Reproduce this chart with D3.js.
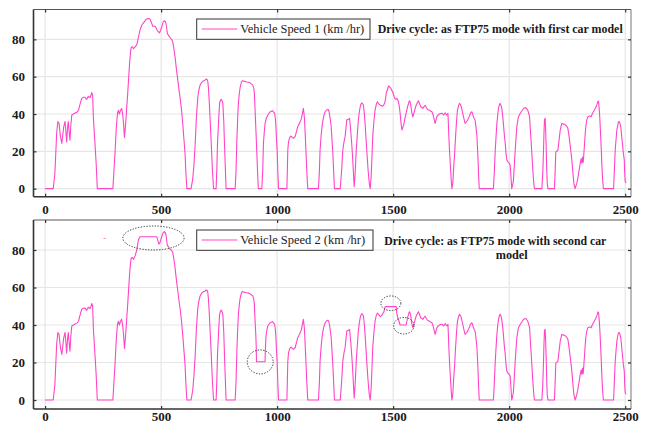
<!DOCTYPE html>
<html><head><meta charset="utf-8">
<script src="https://cdn.jsdelivr.net/npm/d3@7/dist/d3.min.js"></script>
<style>
body{margin:0;background:#fff;}
svg{display:block;font-family:"Liberation Serif","Times New Roman",serif;}
.grid line{stroke:#e6e6e6;stroke-width:1.2;}
.ax .domain{display:none;}
.ax line{stroke:#333;stroke-width:1.2;}
.ax text{font-size:13px;font-weight:bold;fill:#1a1a1a;font-family:"Liberation Serif","Times New Roman",serif;}
.speed{fill:none;stroke:#ff44c8;stroke-width:1.1;stroke-linejoin:round;}
.mark{fill:none;stroke:#333;stroke-width:1;stroke-dasharray:1.3,1.5;}
</style></head><body><div id="chart"></div>
<script>
/* FTP75 drive cycle, vehicle speed of two car models (km/hr vs time s). */
var timeTicks=[0,500,1000,1500,2000,2500];
var speedTicks=[0,20,40,60,80];

var speed1=[[0,0],[35,0],[42,8],[50,30],[55,36],[60,35],[66,28],[72,24.3],[80,33],[86,36],[90,30],[93,25],[97,33],[100,36],[104,30],[107,26],[111,34],[115,39.5],[122,40],[129,40.5],[137,41],[144,42],[150,45],[158,48.4],[165,49],[172,49],[179,47.8],[186,49.5],[193,48.7],[198,50],[201,51.5],[205,50],[208,38],[214,26],[220,13.6],[225,0],
[292,0],[296,8],[302,20.7],[307,33],[312,40.4],[316,42],[320,40],[325,42],[330,43],[334,40],[338,35],[342,27.5],[346,33],[349,38],[352,44],[355,49],[360,59],[364,67],[368,73],[371,75.7],[376,76],[381,75],[388,76],[395,77],[402,81],[409,85],[417,87.7],[425,89],[435,90.7],[443,91.2],[452,91],[458,89],[464,87],[474,87],[479,86],[484,84.6],[493,83.5],[498,85],[503,86.8],[508,89],[513,90],[518,89.5],[521,88.5],[525,85],[527,83],[533,82],[538,81],[545,80],[550,78.7],[555,75],[560,70.7],[565,65],[570,60],[576,54],[582,48.4],[588,42],[593,35],[598,27],[603,19],[607,8],[611,0],
[629,0],[636,5],[641,12],[647,24.3],[652,38],[658,49],[663,53],[668,55.5],[675,57],[682,57.8],[688,58],[694,58.7],[698,58.5],[701,57.5],[704,54],[707,47.5],[712,35],[716,24.3],[721,10],[726,0],
[737,0],[740,10],[743,24.3],[748,37],[752,45.7],[756,47.5],[759,47.9],[763,47],[766,45.7],[770,36],[773,24.3],[777,10],[780,0],
[819,0],[823,10],[826,24.3],[830,38],[833,45.7],[837,51],[841,54.6],[846,57],[850,57.8],[860,57.5],[869,57.2],[876,57],[883,56.7],[890,56],[895,55.5],[899,54],[902,51],[905,42],[909,30],[912,20.7],[916,8],[919,0],
[934,0],[938,10],[941,24.3],[945,31],[948,35],[954,38],[960,39.5],[965,40.5],[970,41.2],[975,41.5],[980,41.8],[985,41],[989,40.4],[992,38],[994,35],[997,27],[1000,20.7],[1003,9],[1006,0],
[1042,0],[1044,10],[1046,20.7],[1049,25],[1053,27],[1057,28],[1060,28.2],[1065,27.5],[1070,27],[1074,27.5],[1078,28],[1082,30],[1085,31.4],[1088,33],[1092,34],[1096,35],[1099,35.9],[1103,37],[1106,38.5],[1110,41],[1113,43],[1116,40],[1118,37],[1121,29],[1124,20.7],[1128,9],[1132,0],
[1178,0],[1182,9],[1185,20.7],[1190,29],[1195,35],[1201,39],[1207,41.2],[1212,42],[1218,42.5],[1221,42.3],[1224,41.2],[1228,38],[1233,33.2],[1236,27],[1240,19],[1244,8],[1247,0],
[1272,0],[1278,10],[1283,20.7],[1288,25],[1293,28],[1297,33],[1300,36.8],[1304,37],[1308,37.2],[1312,37.7],[1315,34],[1318,29.7],[1322,23],[1325,17.2],[1329,8],[1332,1],[1336,8],[1341,20.7],[1346,30],[1350,36.8],[1354,41],[1358,43.9],[1362,45.5],[1365,46],[1368,45.7],[1372,44.7],[1376,40],[1379,35],[1383,27],[1387,19],[1392,10],[1397,3],[1401,0],
[1405,6],[1409,18],[1412,28],[1417,36],[1422,42],[1427,45],[1432,46.6],[1438,45.5],[1444,44.7],[1450,44.5],[1455,44.2],[1459,44.8],[1463,45.7],[1467,48],[1470,51],[1475,53],[1480,55],[1485,54.5],[1490,53.8],[1495,52.5],[1499,51.4],[1504,49.5],[1509,47.9],[1513,48],[1516,48.4],[1520,47.5],[1523,46.6],[1527,43.5],[1530,40.4],[1534,35],[1538,31.4],[1542,33],[1545,34],[1549,36.5],[1552,38.5],[1557,41],[1562,43.9],[1566,45.5],[1570,47.1],[1573,46.5],[1576,44.7],[1580,41],[1585,38.5],[1588,40],[1591,41.2],[1595,43],[1599,44.7],[1604,46],[1609,47.1],[1614,45.5],[1619,43.9],[1624,43.5],[1628,43],[1633,44],[1638,44.7],[1643,43.5],[1648,42.5],[1653,42.2],[1657,42],[1662,41.5],[1667,41.2],[1671,40],[1674,38.5],[1678,36.5],[1681,35],[1685,37],[1688,38.5],[1694,39.5],[1700,40],[1705,40.3],[1710,40.4],[1714,40],[1717,39.5],[1721,40],[1724,40.7],[1728,40],[1731,39.5],[1734,40],[1736,40.4],[1738,35],[1740,28],[1743,20],[1746,13.6],[1750,5],[1753,0],
[1757,3],[1760,9.8],[1765,19],[1769,28],[1773,36],[1777,42],[1782,44.5],[1786,45.7],[1790,45],[1793,44.2],[1797,42],[1800,40.4],[1805,37.5],[1810,35],[1813,35.5],[1817,35.9],[1821,36.8],[1825,37.7],[1829,39],[1832,40],[1836,41],[1839,41.2],[1843,40],[1846,38.5],[1850,37.5],[1853,36.8],[1857,33],[1861,28],[1865,18],[1868,8],[1871,0],
[1932,0],[1936,9],[1940,20.7],[1944,29],[1947,35],[1951,40],[1954,43],[1958,45],[1961,45.7],[1965,44.5],[1968,43],[1972,39],[1975,35],[1979,29],[1983,24.3],[1987,18],[1990,15.4],[1994,14.5],[1997,14],[2001,13.5],[2004,12.8],[2008,6],[2011,0],[2015,2],[2018,4],
[2022,12],[2026,20.7],[2030,28],[2033,33.2],[2037,36.5],[2040,38.5],[2046,40],[2052,41.2],[2057,42],[2062,43],[2067,43.3],[2072,43.4],[2076,42.8],[2080,42],[2084,40.5],[2088,38.5],[2091,32],[2095,24.3],[2099,16],[2102,9.8],[2106,3],[2109,0],
[2141,0],[2145,9],[2148,20.7],[2150,30],[2152,36.8],[2155,37.7],[2157,32],[2159,24.3],[2162,9.8],[2164,3],[2167,0],
[2195,0],[2198,9],[2201,19.8],[2205,20],[2210,20.7],[2215,26],[2220,31.4],[2224,33.5],[2227,35],[2231,34.8],[2234,34.6],[2239,34.5],[2244,34],[2249,33.3],[2253,32.3],[2257,29],[2260,26],[2265,21],[2270,15.4],[2275,8],[2279,2.7],[2284,0],[2291,2.7],[2295,5],[2299,8],[2303,11],[2306,13.6],[2310,16],[2313,13.6],[2316,17],[2319,14],[2322,19],[2325,24.3],[2328,30],[2331,34],[2335,37],[2339,38.5],[2346,39],[2353,38.5],[2358,40],[2363,41.2],[2368,42.3],[2373,43.5],[2378,45],[2382,46.6],[2384,47],[2386,45.7],[2389,41],[2391,36.8],[2394,29],[2397,20.7],[2400,11],[2403,4.5],[2406,0],
[2450,0],[2453,9],[2457,20.7],[2461,27],[2464,31.4],[2468,34],[2471,35.9],[2474,36],[2476,35.5],[2481,33.2],[2485,28],[2488,24.3],[2492,19],[2496,15.4],[2498,8],[2500,4],[2504,3]];

var speed2=[[0,0],[35,0],[42,8],[50,30],[55,36],[60,35],[66,28],[72,24.3],[80,33],[86,36],[90,30],[93,25],[97,33],[100,36],[104,30],[107,26],[111,34],[115,39.5],[122,40],[129,40.5],[137,41],[144,42],[150,45],[158,48.4],[165,49],[172,49],[179,47.8],[186,49.5],[193,48.7],[198,50],[201,51.5],[205,50],[208,38],[214,26],[220,13.6],[225,0],
[292,0],[296,8],[302,20.7],[307,33],[312,40.4],[316,42],[320,40],[325,42],[330,43],[334,40],[338,35],[342,27.5],[346,33],[349,38],[352,44],[355,49],[360,59],[364,67],[368,73],[371,75.7],[376,76],[381,75],[388,77],[395,80],[402,85.3],[409,87.1],[481,87.1],[486,85],[490,83.2],[494,83.5],[500,86],[506,88.5],[513,89.8],[518,89.2],[521,88],[525,84],[527,82.5],[533,81.5],[538,80.5],[545,79.8],[550,78.7],[555,75],[560,70.7],[565,65],[570,60],[576,54],[582,48.4],[588,42],[593,35],[598,27],[603,19],[607,8],[611,0],
[629,0],[636,5],[641,12],[647,24.3],[652,38],[658,49],[663,53],[668,55.5],[675,57],[682,57.8],[688,58],[694,58.7],[698,58.5],[701,57.5],[704,54],[707,47.5],[712,35],[716,24.3],[721,10],[726,0],
[737,0],[740,10],[743,24.3],[748,37],[752,45.7],[756,47.5],[759,47.9],[763,47],[766,45.7],[770,36],[773,24.3],[777,10],[780,0],
[819,0],[823,10],[826,24.3],[830,38],[833,45.7],[837,51],[841,54.6],[846,57],[850,57.8],[860,57.5],[869,57.2],[876,57],[883,56.7],[890,56],[895,55.5],[899,54],[902,51],[905,42],[908,35],[910,28],[911,20.4],[948,20.4],[949,26],[952,34],[956,37.5],[960,39.5],[965,40.5],[970,41.2],[975,41.5],[980,41.8],[985,41],[989,40.4],[992,38],[994,35],[997,27],[1000,20.7],[1003,9],[1006,0],
[1042,0],[1044,10],[1046,20.7],[1049,25],[1053,27],[1057,28],[1060,28.2],[1065,27.5],[1070,27],[1074,27.5],[1078,28],[1082,30],[1085,31.4],[1088,33],[1092,34],[1096,35],[1099,35.9],[1103,37],[1106,38.5],[1110,41],[1113,43],[1116,40],[1118,37],[1121,29],[1124,20.7],[1128,9],[1132,0],
[1178,0],[1182,9],[1185,20.7],[1190,29],[1195,35],[1201,39],[1207,41.2],[1212,42],[1218,42.5],[1221,42.3],[1224,41.2],[1228,38],[1233,33.2],[1236,27],[1240,19],[1244,8],[1247,0],
[1272,0],[1278,10],[1283,20.7],[1288,25],[1293,28],[1297,33],[1300,36.8],[1304,37],[1308,37.2],[1312,37.7],[1315,34],[1318,29.7],[1322,23],[1325,17.2],[1329,8],[1332,1],[1336,8],[1341,20.7],[1346,30],[1350,36.8],[1354,41],[1358,43.9],[1362,45.5],[1365,46],[1368,45.7],[1372,44.7],[1376,40],[1379,35],[1383,27],[1387,19],[1392,10],[1397,3],[1401,0],
[1405,6],[1409,18],[1412,28],[1417,36],[1422,42],[1427,45],[1432,46.4],[1438,45.5],[1444,44.5],[1450,45],[1455,46],[1460,47],[1463,48.5],[1466,49.8],[1513,49.8],[1516,46],[1520,44],[1525,42],[1530,40],[1556,40],[1559,42],[1562,43.9],[1566,45.5],[1570,47.1],[1573,46.5],[1576,44.7],[1580,41],[1585,38.5],[1588,40],[1591,41.2],[1595,43],[1599,44.7],[1604,46],[1609,47.1],[1614,45.5],[1619,43.9],[1624,43.5],[1628,43],[1633,44],[1638,44.7],[1643,43.5],[1648,42.5],[1653,42.2],[1657,42],[1662,41.5],[1667,41.2],[1671,40],[1674,38.5],[1678,36.5],[1681,35],[1685,37],[1688,38.5],[1694,39.5],[1700,40],[1705,40.3],[1710,40.4],[1714,40],[1717,39.5],[1721,40],[1724,40.7],[1728,40],[1731,39.5],[1734,40],[1736,40.4],[1738,35],[1740,28],[1743,20],[1746,13.6],[1750,5],[1753,0],
[1757,3],[1760,9.8],[1765,19],[1769,28],[1773,36],[1777,42],[1782,44.5],[1786,45.7],[1790,45],[1793,44.2],[1797,42],[1800,40.4],[1805,37.5],[1810,35],[1813,35.5],[1817,35.9],[1821,36.8],[1825,37.7],[1829,39],[1832,40],[1836,41],[1839,41.2],[1843,40],[1846,38.5],[1850,37.5],[1853,36.8],[1857,33],[1861,28],[1865,18],[1868,8],[1871,0],
[1932,0],[1936,9],[1940,20.7],[1944,29],[1947,35],[1951,40],[1954,43],[1958,45],[1961,45.7],[1965,44.5],[1968,43],[1972,39],[1975,35],[1979,29],[1983,24.3],[1987,18],[1990,15.4],[1994,14.5],[1997,14],[2001,13.5],[2004,12.8],[2008,6],[2011,0],[2015,2],[2018,4],
[2022,12],[2026,20.7],[2030,28],[2033,33.2],[2037,36.5],[2040,38.5],[2046,40],[2052,41.2],[2057,42],[2062,43],[2067,43.3],[2072,43.4],[2076,42.8],[2080,42],[2084,40.5],[2088,38.5],[2091,32],[2095,24.3],[2099,16],[2102,9.8],[2106,3],[2109,0],
[2141,0],[2145,9],[2148,20.7],[2150,30],[2152,36.8],[2155,37.7],[2157,32],[2159,24.3],[2162,9.8],[2164,3],[2167,0],
[2195,0],[2198,9],[2201,19.8],[2205,20],[2210,20.7],[2215,26],[2220,31.4],[2224,33.5],[2227,35],[2231,34.8],[2234,34.6],[2239,34.5],[2244,34],[2249,33.3],[2253,32.3],[2257,29],[2260,26],[2265,21],[2270,15.4],[2275,8],[2279,2.7],[2284,0],[2291,2.7],[2295,5],[2299,8],[2303,11],[2306,13.6],[2310,16],[2313,13.6],[2316,17],[2319,14],[2322,19],[2325,24.3],[2328,30],[2331,34],[2335,37],[2339,38.5],[2346,39],[2353,38.5],[2358,40],[2363,41.2],[2368,42.3],[2373,43.5],[2378,45],[2382,46.6],[2384,47],[2386,45.7],[2389,41],[2391,36.8],[2394,29],[2397,20.7],[2400,11],[2403,4.5],[2406,0],
[2450,0],[2453,9],[2457,20.7],[2461,27],[2464,31.4],[2468,34],[2471,35.9],[2474,36],[2476,35.5],[2481,33.2],[2485,28],[2488,24.3],[2492,19],[2496,15.4],[2498,8],[2500,4],[2504,3]];

// circled changes in the second run: centre time, centre speed, half-width (s), half-height (km/hr)
var circled2=[[467,86.4,132,6.4],[927,20.3,56,6.4],[1490,51.6,43,3.9],[1546,39.6,44,4.4]];
var stray2=[[256,86.2]];

var W=651,H=425;
var svg=d3.select("#chart").append("svg").attr("width",W).attr("height",H);

function renderPanel(p){
    var x=d3.scaleLinear().domain([-50,2525]).range([33.5,631]);
    var y=d3.scaleLinear().domain(p.yDomain).range([p.bottom,p.top]);
    var g=svg.append("g");

    var grid=g.append("g").attr("class","grid");
    grid.selectAll("line.gx").data(timeTicks).enter().append("line")
        .attr("x1",function(d){return x(d);}).attr("x2",function(d){return x(d);})
        .attr("y1",p.top).attr("y2",p.bottom);
    grid.selectAll("line.gy").data(speedTicks).enter().append("line")
        .attr("x1",33.5).attr("x2",631)
        .attr("y1",function(d){return y(d);}).attr("y2",function(d){return y(d);});

    g.append("path").datum(p.series).attr("class","speed")
        .attr("d",d3.line().x(function(d){return x(d[0]);}).y(function(d){return y(d[1]);}));

    (p.stray||[]).forEach(function(d){
        g.append("rect").attr("x",x(d[0])-1).attr("y",y(d[1])-0.5).attr("width",2).attr("height",1).attr("fill","#ff70d4");
    });

    (p.circled||[]).forEach(function(d){
        g.append("ellipse").attr("class","mark").attr("cx",x(d[0])).attr("cy",y(d[1]))
            .attr("rx",x(d[2])-x(0)).attr("ry",y(0)-y(d[3]));
    });

    // frame
    g.append("line").attr("x1",33.5).attr("x2",631).attr("y1",p.top).attr("y2",p.top).attr("stroke","#555").attr("stroke-width",1);
    g.append("line").attr("x1",631).attr("x2",631).attr("y1",p.top).attr("y2",p.bottom).attr("stroke","#777").attr("stroke-width",1);
    g.append("line").attr("x1",33.5).attr("x2",33.5).attr("y1",p.top).attr("y2",p.bottom).attr("stroke","#333").attr("stroke-width",1.6);
    g.append("line").attr("x1",33.5).attr("x2",631).attr("y1",p.bottom).attr("y2",p.bottom).attr("stroke","#333").attr("stroke-width",1.6);

    g.append("g").attr("class","ax").attr("transform","translate(0,"+p.bottom+")")
        .call(d3.axisBottom(x).tickValues(timeTicks).tickSize(-3).tickSizeOuter(0).tickFormat(d3.format("d")))
        .selectAll("text").attr("y",p.xLabelDy).attr("dy",0);
    g.append("g").attr("class","ax").attr("transform","translate(0,"+p.top+")")
        .call(d3.axisTop(x).tickValues(timeTicks).tickSize(-3).tickSizeOuter(0).tickFormat(""));
    g.append("g").attr("class","ax").attr("transform","translate(33.5,0)")
        .call(d3.axisLeft(y).tickValues(speedTicks).tickSize(-3).tickSizeOuter(0).tickPadding(8.5));
    g.append("g").attr("class","ax").attr("transform","translate(631,0)")
        .call(d3.axisRight(y).tickValues(speedTicks).tickSize(-3).tickSizeOuter(0).tickFormat(""));

    // legend
    var lg=g.append("g").attr("transform","translate(196.7,"+p.legendTop+")");
    lg.append("rect").attr("width",p.legendW).attr("height",20.3).attr("fill","#fff").attr("stroke","#333").attr("stroke-width",1);
    lg.append("line").attr("x1",5).attr("x2",40.5).attr("y1",10).attr("y2",10).attr("stroke","#ff44c8").attr("stroke-width",1.1);
    lg.append("text").attr("x",43.5).attr("y",14.3).attr("font-size","13px").attr("fill","#222")
        .attr("textLength",p.legendTextW).attr("lengthAdjust","spacingAndGlyphs").text(p.legend);

    p.title.forEach(function(t){
        g.append("text").attr("x",t.x).attr("y",t.y).attr("text-anchor",t.anchor).attr("font-size","12.5px")
            .attr("font-weight","bold").attr("fill","#1a1a1a")
            .attr("textLength",t.w).attr("lengthAdjust","spacingAndGlyphs").text(t.text);
    });
}

renderPanel({series:speed1,top:9.5,bottom:196.7,yDomain:[-4.3,96],xLabelDy:17.8,
    legendTop:19,legendW:173.3,legend:"Vehicle Speed 1 (km /hr)",legendTextW:124,
    title:[{text:"Drive cycle: as FTP75 mode with first car model",x:377.7,y:32.6,anchor:"start",w:245}]});

renderPanel({series:speed2,top:220,bottom:409,yDomain:[-4.8,96],xLabelDy:12,
    legendTop:230,legendW:176.3,legend:"Vehicle Speed 2 (km /hr)",legendTextW:125,
    circled:circled2,stray:stray2,
    title:[{text:"Drive cycle: as FTP75 mode with second car",x:384.3,y:244.5,anchor:"start",w:222},
           {text:"model",x:511.7,y:259,anchor:"middle",w:32}]});
</script></body></html>
